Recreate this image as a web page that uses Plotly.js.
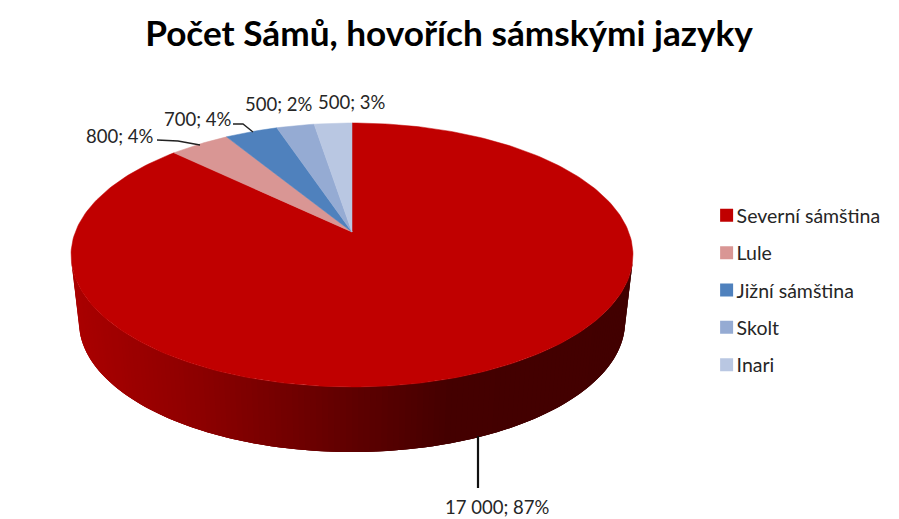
<!DOCTYPE html>
<html><head><meta charset="utf-8">
<script src="https://cdn.plot.ly/plotly-3.0.1.min.js"></script>
<style>html,body{margin:0;padding:0;background:#fff}#c{width:899px;height:519px}</style>
</head><body><div id="c"></div>
<script>
const titleText = "Počet Sámů, hovořích sámskými jazyky";
const categories = ["Severní sámština","Lule","Jižní sámština","Skolt","Inari"];
const values = [17000,800,700,500,500];
const valueLabels = ["17 000; 87%","800; 4%","700; 4%","500; 2%","500; 3%"];
const colors = ["#c00000","#d99694","#4f81bd","#95abd3","#b9c7e2"];
const labelX = [497,119,197,278,351];
const labelY = [507,136,119,104,102];

// Perspective projection of the round pie top on to the picture
const apex = {x:352,y:232}, K=0.174, A=276.7, B=128;
function project(theta){ // theta clockwise from 12 o'clock
  const px=Math.sin(theta), py=Math.cos(theta), w=1+K*py;
  return [apex.x+A*px/w, apex.y-B*py/w];
}
const total = values.reduce((a,b)=>a+b,0);
const traces=[]; let acc=0;
values.forEach((v,i)=>{
  const a0=acc/total*2*Math.PI, a1=(acc+v)/total*2*Math.PI; acc+=v;
  const xs=[apex.x], ys=[apex.y];
  const n=Math.max(6,Math.ceil((a1-a0)/0.02));
  for(let k=0;k<=n;k++){const p=project(a0+(a1-a0)*k/n); xs.push(p[0]); ys.push(p[1]);}
  xs.push(apex.x); ys.push(apex.y);
  traces.push({type:'scatter',mode:'lines',x:xs,y:ys,fill:'toself',fillcolor:colors[i],
    line:{color:colors[i],width:0.5},showlegend:false,hoverinfo:'skip'});
});
categories.forEach((c,i)=>{
  traces.push({type:'scatter',mode:'markers',x:[null],y:[null],name:c,legendgroup:c,
    marker:{symbol:'square',size:13,color:colors[i]}});
});

// Side wall of the disc, as shaded strips painted left to right, each overlapping the next
const stops=[[70,170,0],[200,140,0],[352,95,0],[450,68,0],[640,66,0]];
function wallColor(x){
  for(let i=0;i<stops.length-1;i++){
    if(x<=stops[i+1][0]){const t=Math.max(0,(x-stops[i][0])/(stops[i+1][0]-stops[i][0]));
      return `rgb(${Math.round(stops[i][1]+(stops[i+1][1]-stops[i][1])*t)},0,0)`;}
  }
  return `rgb(${stops[stops.length-1][1]},0,0)`;
}
const shapes=[];
const rimTop=t=>[352+281*Math.cos(t),255+132*Math.sin(t)];
const rimBottom=t=>[352+273*Math.cos(t),322+130*Math.sin(t)];
const N=140;
const angleAt=i=>Math.PI*0.98-Math.PI*0.96*i/N;
for(let i=0;i<N;i++){
  const t0=angleAt(i), t1=angleAt(Math.min(N,i+3)), tm=angleAt(Math.min(N,i+1));
  const a=rimTop(t0),b=rimTop(t1),c=rimBottom(t1),d=rimBottom(t0),m=rimBottom(tm);
  const col=wallColor((a[0]+rimTop(tm)[0])/2);
  shapes.push({type:'path',xref:'x',yref:'y',layer:'below',fillcolor:col,line:{width:0},
    path:`M${a[0]},${a[1]}L${b[0]},${b[1]}L${c[0]},${c[1]}L${m[0]},${m[1]}L${d[0]},${d[1]}Z`});
}
// Leader lines
[["M478,436L478,488",2.2,"#111"],["M157,140L178,141L200,145",1.4,"#222"],["M233,124L243,124L253,132",1.4,"#222"]]
 .forEach(l=>shapes.push({type:'path',xref:'x',yref:'y',layer:'above',path:l[0],line:{color:l[2],width:l[1]}}));

const annotations=valueLabels.map((t,i)=>({text:t,x:labelX[i],y:labelY[i],xref:'x',yref:'y',showarrow:false,
  xanchor:'center',yanchor:'middle',font:{family:'Lato, sans-serif',size:18.5,color:'#262626'}}));

const layout={
  width:899,height:519,margin:{l:0,r:0,t:0,b:0},paper_bgcolor:'#fff',plot_bgcolor:'#fff',
  title:{text:titleText,x:0.4995,xanchor:'center',y:0.935,yanchor:'middle',font:{family:'Lato, sans-serif',size:35.2,color:'#000',weight:700}},
  xaxis:{range:[0,899],visible:false,fixedrange:true},
  yaxis:{range:[519,0],visible:false,fixedrange:true},
  shapes,annotations,showlegend:true,
  legend:{x:0.786,y:0.441,xanchor:'left',yanchor:'middle',tracegroupgap:9,itemwidth:30,
    font:{family:'Lato, sans-serif',size:19.5,color:'#262626'},bgcolor:'rgba(0,0,0,0)'}
};
Plotly.newPlot('c',traces,layout,{displayModeBar:false,staticPlot:true}).then(gd=>{
  // bring the legend text closer to its swatch, as in the reference
  gd.querySelectorAll('.legendtext').forEach(t=>t.setAttribute('x',+t.getAttribute('x')-10));
});
</script></body></html>
